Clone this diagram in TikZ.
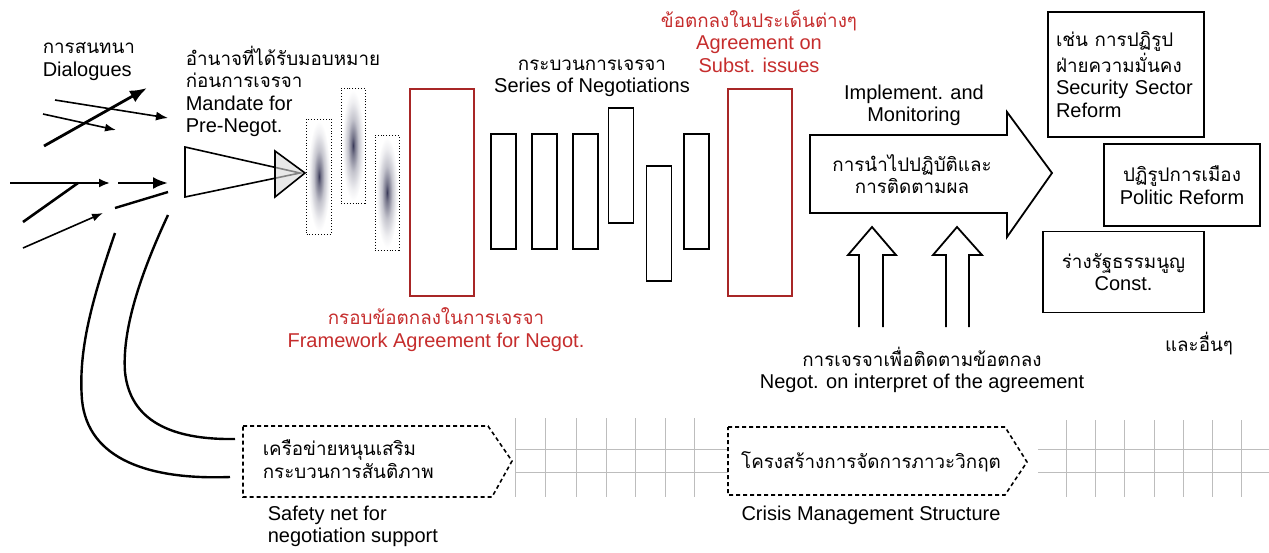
\documentclass[tikz,border=0pt]{standalone}
\usepackage{fontspec}
\setmainfont{Liberation Sans}
\newfontfamily\thaifont[Script=Thai, Scale=0.94]{Loma}
\usepackage{xcolor}
\definecolor{cr}{HTML}{C62D2D}
\definecolor{crd}{HTML}{A82626}
\definecolor{cg}{HTML}{BDBDBD}
\definecolor{cblob}{HTML}{3A3A58}
\usepackage{tikz}
\usetikzlibrary{arrows.meta,positioning,calc}
\newcommand{\tht}[1]{{\thaifont #1}}
\pgfdeclareradialshading{blob}{\pgfpoint{0bp}{0bp}}{color(0bp)=(cblob); color(4bp)=(cblob!70!white); color(12bp)=(cblob!30!white); color(20bp)=(cblob!8!white); color(25bp)=(white); color(50bp)=(white)}

\begin{document}
\begin{tikzpicture}[x=1pt, y=-1pt, line width=1.6pt, >=Latex,
  txt/.style={font=\fontsize{20}{22.5}\selectfont, inner sep=0pt},
  redtxt/.style={txt, text=cr},
  prebox/.style={draw, dotted, line width=0.9pt, minimum width=25pt, minimum height=115pt, inner sep=0pt},
  negbox/.style={draw, line width=1.8pt, minimum width=25pt, minimum height=115pt, inner sep=0pt},
  frame/.style={draw=crd, line width=1.8pt, minimum width=64pt, minimum height=207pt, inner sep=0pt},
  reform/.style={draw, line width=1.8pt, inner sep=0pt, align=center, font=\fontsize{20}{22.5}\selectfont},
  netline/.style={draw=cg, line width=0.8pt},
  support/.style={line width=1.6pt, dash pattern=on 4pt off 3pt},
]
  \fill[white] (0,0) rectangle (1269,552);
  \useasboundingbox (0,0) rectangle (1269,552);

  % dialogues
  \node[txt, anchor=north west, align=left] (dialog) at (42,42) {\tht{การสนทนา}\\Dialogues};
  \coordinate (d1s) at (44,146);  \coordinate (d1e) at (147,88);
  \coordinate (d2s) at (55,100);  \coordinate (d2e) at (168,118);
  \coordinate (d3s) at (43,114);  \coordinate (d3e) at (116,130);
  \coordinate (d4s) at (10,183);  \coordinate (d4e) at (110,183);
  \coordinate (d5s) at (23,222);  \coordinate (d5e) at (78,183);
  \coordinate (d6s) at (23,248);  \coordinate (d6e) at (103,213);
  \coordinate (d7s) at (118,183); \coordinate (d7e) at (168,183);
  \coordinate (d8s) at (115,208); \coordinate (d8e) at (168,192);
  \draw[line width=2.8pt, -{Latex[length=17pt,width=13pt]}] (d1s) -- (d1e);
  \draw[-{Latex[length=12pt,width=9pt]}] (d2s) -- (d2e);
  \draw[-{Latex[length=11pt,width=8pt]}] (d3s) -- (d3e);
  \draw[line width=2pt, -{Latex[length=11pt,width=9pt]}] (d4s) -- (d4e);
  \draw[line width=2.6pt] (d5s) -- (d5e);
  \draw[-{Latex[length=11pt,width=8pt]}] (d6s) -- (d6e);
  \draw[line width=2.6pt, -{Latex[length=15pt,width=12pt]}] (d7s) -- (d7e);
  \draw[line width=2.4pt] (d8s) -- (d8e);

  % mandate
  \node[txt, anchor=north west, align=left] (mandate) at (185,45)
    {\tht{อำนาจที่ได้รับมอบหมาย}\\\tht{ก่อนการเจรจา}\\Mandate for\\Pre-Negot.};
  \draw (185,147) -- (300,173) -- (185,197) -- cycle;
  \filldraw[fill=gray!30, fill opacity=0.6] (275,151) -- (305,173) -- (275,197) -- cycle;

  \node[prebox] (pre1) at (319,176.5) {};
  \node[prebox, minimum width=24pt] (pre2) at (353,145.5) {};
  \node[prebox, minimum width=24pt] (pre3) at (387,192.5) {};
  \shade[shading=blob] (pre1.center) ellipse [x radius=11, y radius=55];
  \shade[shading=blob] (pre2.center) ellipse [x radius=11, y radius=55];
  \shade[shading=blob] (pre3.center) ellipse [x radius=11, y radius=55];

  % framework agreement
  \node[frame] (frame1) at (442,192.5) {};
  \node[redtxt, anchor=north, align=center] (framelbl) at (436,307)
    {\tht{กรอบข้อตกลงในการเจรจา}\\Framework Agreement for Negot.};

  % series of negotiations
  \node[txt, anchor=north, align=center] (series) at (592,59)
    {\tht{กระบวนการเจรจา}\\Series of Negotiations};
  \node[negbox] (n1) at (503.5,191.5) {};
  \node[negbox, right=14pt of n1] (n2) {};
  \node[negbox, right=14pt of n2] (n3) {};
  \node[negbox] (n4) at (621,165.5) {};
  \node[negbox] (n5) at (659,223.5) {};
  \node[negbox] (n6) at (696.5,191.5) {};

  % substantive agreement
  \node[frame] (frame2) at (760,192.5) {};
  \node[redtxt, anchor=north, align=center] (subst) at (759,9)
    {\tht{ข้อตกลงในประเด็นต่างๆ}\\Agreement on\\Subst. issues};

  % implementation
  \draw[line width=1.8pt] (810,135) -- (1007,135) -- (1007,112) -- (1052,173)
    -- (1007,237) -- (1007,213) -- (810,213) -- cycle;
  \node[txt, anchor=north, align=center] (implen) at (914,84) {Implement. and\\Monitoring};
  \node[txt, align=center] (implth) at (912,174) {\tht{การนำไปปฏิบัติและ}\\\tht{การติดตามผล}};
  \draw[line width=1.8pt] (859,327) -- (859,255) -- (848,255) -- (872,227)
    -- (896,255) -- (883,255) -- (883,327);
  \draw[line width=1.8pt] (946,327) -- (946,255) -- (933,255) -- (957,227)
    -- (982,255) -- (969,255) -- (969,327);
  \node[txt, anchor=north, align=center] (interp) at (922,346)
    {\tht{การเจรจาเพื่อติดตามข้อตกลง}\\Negot. on interpret of the agreement};

  % reforms
  \node[reform, minimum width=156pt, minimum height=125pt, text width=140pt, align=left]
    (ssr) at (1126,74.5) {\tht{เช่น การปฏิรูป}\\\tht{ฝ่ายความมั่นคง}\\Security Sector\\Reform};
  \node[reform, minimum width=156pt, minimum height=82pt] (pol) at (1182,185)
    {\tht{ปฏิรูปการเมือง}\\Politic Reform};
  \node[reform, minimum width=161pt, minimum height=81pt] (const) at (1123.5,272)
    {\tht{ร่างรัฐธรรมนูญ}\\Const.};
  \node[txt, anchor=north] (etc) at (1199,331) {\tht{และอื่นๆ}};

  % safety net
  \draw[support] (243,426) -- (488,426) -- (512,461) -- (492,497) -- (243,497) -- cycle;
  \node[txt, anchor=north west, align=left] (netth) at (262,439)
    {\tht{เครือข่ายหนุนเสริม}\\\tht{กระบวนการสันติภาพ}};
  \node[txt, anchor=north west, align=left] (neten) at (267,505)
    {Safety net for\\negotiation support};
  \coordinate (c1s) at (115,233); \coordinate (c1e) at (230,477);
  \coordinate (c2s) at (168,215); \coordinate (c2e) at (235,439);
  \draw[line width=2.4pt] (c1s) .. controls (92,300) and (78,350) .. (82,400)
    .. controls (88,460) and (150,480) .. (c1e);
  \draw[line width=2.4pt] (c2s) .. controls (140,275) and (122,330) .. (125,372)
    .. controls (130,420) and (170,440) .. (c2e);

  % crisis management
  \foreach \x in {515,545,576,606,635,665,694}
    \draw[netline] (\x,418) -- (\x,497);
  \draw[netline] (515,449) -- (728,449);
  \draw[netline] (515,472) -- (728,472);
  \draw[support] (728,427) -- (1005,427) -- (1027,462) -- (1005,495) -- (728,495) -- cycle;
  \node[txt] (crisisth) at (871,462) {\tht{โครงสร้างการจัดการภาวะวิกฤต}};
  \node[txt, anchor=north] (crisisen) at (871,505) {Crisis Management Structure};
  \foreach \x in {1066,1095,1124,1154,1183,1212,1241}
    \draw[netline] (\x,420) -- (\x,497);
  \draw[netline] (1038,449) -- (1269,449);
  \draw[netline] (1038,472) -- (1269,472);
\end{tikzpicture}
\end{document}
